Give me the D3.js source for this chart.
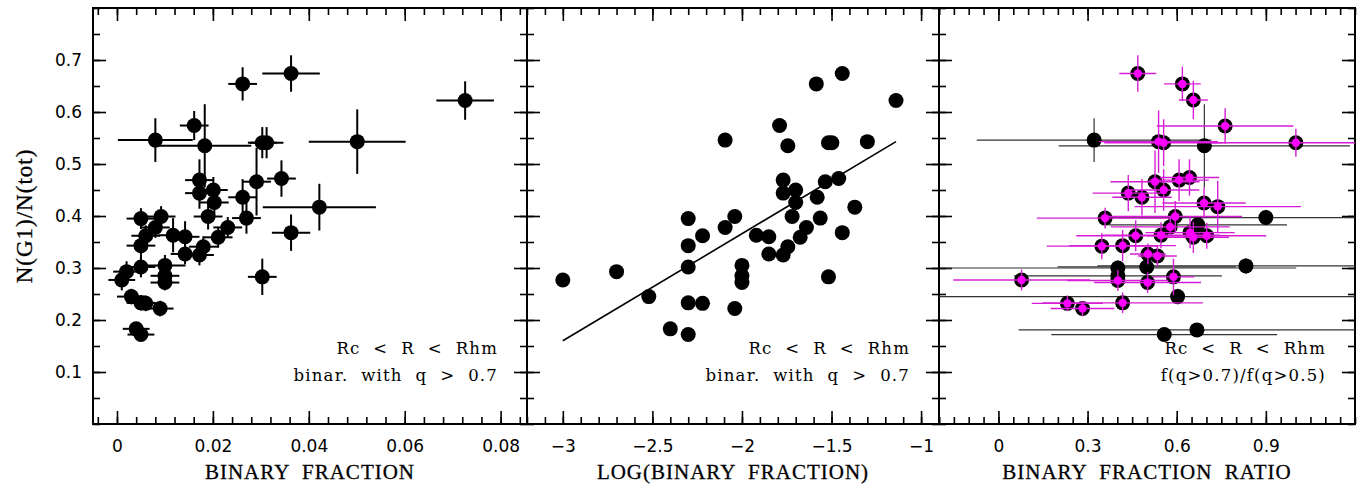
<!DOCTYPE html>
<html>
<head>
<meta charset="utf-8">
<style>
body { margin: 0; background: #fff; }
.tick text { font-family: "DejaVu Sans", sans-serif; font-size: 17px; fill: #000; }
.axis path.domain { display: none; }
.axis line { stroke: #000; stroke-width: 1.6; }
.title { font-family: "Liberation Serif", "DejaVu Serif", serif; font-size: 21px; fill: #000; stroke: #000; stroke-width: 0.3; letter-spacing: 1px; }
.ytitle { font-size: 23px; }
.note { font-family: "DejaVu Serif", serif; font-size: 16.5px; fill: #000; white-space: pre; letter-spacing: 1.2px; }
</style>
</head>
<body>
<svg id="chart" width="1370" height="487"></svg>
<script src="https://cdn.jsdelivr.net/npm/d3@7"></script>
<script>
// panels 1 and 2: same clusters, binary fraction (q > 0.7) vs N(G1)/N(tot)
var bf    = [0.001,0.002,0.003,0.004,0.005,0.005,0.006,0.005,0.005,0.005,0.006,0.008,0.0092,0.008,0.009,0.010,0.010,0.010,0.0117,0.0142,0.0142,0.0161,0.0172,0.0172,0.0183,0.0172,0.0180,0.0201,0.0203,0.0190,0.0211,0.0231,0.0262,0.0262,0.0270,0.0291,0.0303,0.0312,0.0303,0.0343,0.0363,0.0363,0.0422,0.0501,0.0726];
var bfErr = [0.0028,0.0028,0.003,0.0028,0.0028,0.003,0.0025,0.003,0.003,0.003,0.003,0.003,0.003,0.0078,0.0028,0.0043,0.003,0.003,0.003,0.003,0.003,0.003,0.003,0.003,0.0097,0.003,0.003,0.003,0.003,0.003,0.003,0.003,0.003,0.003,0.003,0.003,0.003,0.0035,0.003,0.003,0.006,0.004,0.0118,0.0101,0.006];
var g1    = [0.277,0.293,0.245,0.183,0.172,0.233,0.232,0.302,0.343,0.395,0.362,0.378,0.399,0.546,0.222,0.305,0.285,0.272,0.363,0.360,0.327,0.574,0.469,0.444,0.535,0.325,0.341,0.450,0.426,0.399,0.359,0.378,0.654,0.436,0.396,0.466,0.541,0.541,0.283,0.472,0.674,0.368,0.417,0.543,0.622];
var g1Err = [0.02,0.02,0.015,0.012,0.012,0.015,0.015,0.02,0.025,0.02,0.02,0.02,0.02,0.042,0.015,0.02,0.015,0.015,0.033,0.03,0.02,0.028,0.04,0.03,0.08,0.02,0.02,0.025,0.025,0.025,0.02,0.02,0.032,0.035,0.03,0.065,0.03,0.03,0.035,0.035,0.035,0.035,0.045,0.062,0.037];
var logBf = [-3.0,-2.70,-2.52,-2.40,-2.30,-2.30,-2.22,-2.30,-2.30,-2.30,-2.22,-2.094,-2.04,-2.094,-2.04,-2.0,-2.0,-2.0,-1.92,-1.85,-1.85,-1.79,-1.77,-1.77,-1.744,-1.77,-1.744,-1.70,-1.70,-1.72,-1.675,-1.64,-1.585,-1.58,-1.563,-1.535,-1.517,-1.498,-1.517,-1.46,-1.44,-1.44,-1.37,-1.30,-1.14];
var fitX = [-3.0, -1.14];
var fitY = [0.160, 0.543];

// panel 3: ratio f(q>0.7)/f(q>0.5); magenta = good ratio, black = poor
var ratioM    = [0.469,0.619,0.656,0.763,0.539,0.556,1.001,0.527,0.556,0.608,0.643,0.437,0.483,0.692,0.738,0.359,0.595,0.578,0.462,0.547,0.645,0.656,0.701,0.348,0.418,0.503,0.535,0.078,0.402,0.502,0.589,0.232,0.283,0.418];
var ratioMErr = [0.062,0.062,0.049,0.23,0.2,0.2,0.285,0.15,0.12,0.1,0.1,0.12,0.1,0.14,0.28,0.23,0.225,0.2,0.2,0.2,0.15,0.12,0.2,0.185,0.18,0.06,0.065,0.23,0.17,0.18,0.07,0.12,0.107,0.27];
var g1M       = [0.674,0.654,0.623,0.573,0.543,0.541,0.541,0.466,0.450,0.469,0.474,0.444,0.436,0.425,0.418,0.396,0.399,0.379,0.362,0.363,0.368,0.359,0.362,0.342,0.343,0.327,0.323,0.277,0.276,0.272,0.283,0.232,0.222,0.233];
var g1MErr    = [0.035,0.033,0.037,0.034,0.06,0.045,0.027,0.06,0.04,0.04,0.035,0.035,0.035,0.03,0.05,0.02,0.03,0.02,0.03,0.025,0.03,0.03,0.025,0.025,0.03,0.02,0.02,0.02,0.02,0.02,0.035,0.015,0.015,0.02];
var ratioK    = [0.322,0.693,0.900,0.671,0.402,0.402,0.499,0.833,0.603,0.558,0.668];
var ratioKErr = [0.395,0.49,0.535,0.3,0.6,0.35,0.3,0.5,0.9,0.38,0.6];
var g1K       = [0.546,0.535,0.397,0.383,0.300,0.285,0.302,0.304,0.245,0.172,0.181];
var g1KErr    = [0.042,0.08,0.015,0.015,0.015,0.015,0.015,0.015,0.015,0.012,0.012];

// axes
var yTicks = [0.1,0.2,0.3,0.4,0.5,0.6,0.7];
var yLabels = ["0.1","0.2","0.3","0.4","0.5","0.6","0.7"];
var x1Ticks = [0,0.02,0.04,0.06,0.08];
var x1Labels = ["0","0.02","0.04","0.06","0.08"];
var x2Ticks = [-3,-2.5,-2,-1.5,-1];
var x2Labels = ["\u22123","\u22122.5","\u22122","\u22121.5","\u22121"];
var x3Ticks = [0,0.3,0.6,0.9];
var x3Labels = ["0","0.3","0.6","0.9"];
var xTitles = ["BINARY  FRACTION", "LOG(BINARY  FRACTION)", "BINARY  FRACTION  RATIO"];
var yTitle = "N(G1)/N(tot)";
var notes = [["Rc  <  R  <  Rhm", "binar.  with  q  >  0.7"],
             ["Rc  <  R  <  Rhm", "binar.  with  q  >  0.7"],
             ["Rc  <  R  <  Rhm", "f(q>0.7)/f(q>0.5)"]];

var svg = d3.select("#chart");
var top_ = 8, bottom = 424;
var edges = [93, 527, 939, 1355];

var y = d3.scaleLinear().domain([0, 0.8]).range([bottom, top_]);
var xs = [
  d3.scaleLinear().domain([-0.005, 0.0855]).range([edges[0], edges[1]]),
  d3.scaleLinear().domain([-3.2, -0.9]).range([edges[1], edges[2]]),
  d3.scaleLinear().domain([-0.2, 1.2]).range([edges[2], edges[3]])
];
var majors = [x1Ticks, x2Ticks, x3Ticks];
var labels = [x1Labels, x2Labels, x3Labels];
var minorStep = [0.004, 0.1, 0.05];

function minors(dom, step) {
  var out = [];
  for (var v = Math.ceil(dom[0] / step - 1e-6) * step; v <= dom[1] + 1e-9; v += step) out.push(+v.toFixed(6));
  return out;
}
var yMinor = minors([0, 0.8], 0.05);

xs.forEach(function(x, p) {
  var xm = minors(x.domain(), minorStep[p]);
  var lab = labels[p];
  // bottom: minor ticks, then major ticks with labels
  svg.append("g").attr("class", "axis").attr("transform", "translate(0," + bottom + ")")
    .call(d3.axisBottom(x).tickValues(xm).tickSize(-7).tickSizeOuter(0).tickFormat(""));
  svg.append("g").attr("class", "axis").attr("transform", "translate(0," + bottom + ")")
    .call(d3.axisBottom(x).tickValues(majors[p]).tickSize(-13).tickSizeOuter(0).tickPadding(16)
      .tickFormat(function(d, i) { return lab[i]; }));
  // top
  svg.append("g").attr("class", "axis").attr("transform", "translate(0," + top_ + ")")
    .call(d3.axisTop(x).tickValues(xm).tickSize(-7).tickSizeOuter(0).tickFormat(""));
  svg.append("g").attr("class", "axis").attr("transform", "translate(0," + top_ + ")")
    .call(d3.axisTop(x).tickValues(majors[p]).tickSize(-13).tickSizeOuter(0).tickFormat(""));
  // left / right
  var l = x.range()[0], r = x.range()[1];
  svg.append("g").attr("class", "axis").attr("transform", "translate(" + l + ",0)")
    .call(d3.axisLeft(y).tickValues(yMinor).tickSize(-7).tickSizeOuter(0).tickFormat(""));
  svg.append("g").attr("class", "axis").attr("transform", "translate(" + l + ",0)")
    .call(d3.axisLeft(y).tickValues(yTicks).tickSize(-13).tickSizeOuter(0).tickPadding(11)
      .tickFormat(function(d, i) { return p == 0 ? yLabels[i] : ""; }));
  svg.append("g").attr("class", "axis").attr("transform", "translate(" + r + ",0)")
    .call(d3.axisRight(y).tickValues(yMinor).tickSize(-7).tickSizeOuter(0).tickFormat(""));
  svg.append("g").attr("class", "axis").attr("transform", "translate(" + r + ",0)")
    .call(d3.axisRight(y).tickValues(yTicks).tickSize(-13).tickSizeOuter(0).tickFormat(""));

  svg.append("rect")
    .attr("x", l).attr("y", top_).attr("width", r - l).attr("height", bottom - top_)
    .attr("fill", "none").attr("stroke", "#000").attr("stroke-width", 2);

  svg.append("clipPath").attr("id", "clip" + p)
    .append("rect").attr("x", l).attr("y", top_).attr("width", r - l).attr("height", bottom - top_);

  svg.append("text").attr("class", "title")
    .attr("x", (l + r) / 2).attr("y", 479).attr("text-anchor", "middle")
    .style("white-space", "pre").text(xTitles[p]);

  svg.append("text").attr("class", "note").attr("text-anchor", "end")
    .attr("x", r - 29).attr("y", 354).text(notes[p][0]);
  svg.append("text").attr("class", "note").attr("text-anchor", "end")
    .attr("x", r - 29).attr("y", 381).text(notes[p][1]);
});

svg.append("text").attr("class", "title ytitle")
  .attr("transform", "translate(32," + ((top_ + bottom) / 2) + ") rotate(-90)")
  .attr("text-anchor", "middle").text(yTitle);

// error bar helper
function errBars(g, x, xv, xe, yv, ye, color, w) {
  var idx = d3.range(xv.length);
  g.selectAll(null).data(idx).enter().append("line")
    .attr("x1", function(i) { return x(xv[i] - xe[i]); })
    .attr("x2", function(i) { return x(xv[i] + xe[i]); })
    .attr("y1", function(i) { return y(yv[i]); })
    .attr("y2", function(i) { return y(yv[i]); })
    .attr("stroke", color).attr("stroke-width", w);
  g.selectAll(null).data(idx).enter().append("line")
    .attr("x1", function(i) { return x(xv[i]); })
    .attr("x2", function(i) { return x(xv[i]); })
    .attr("y1", function(i) { return y(yv[i] - ye[i]); })
    .attr("y2", function(i) { return y(yv[i] + ye[i]); })
    .attr("stroke", color).attr("stroke-width", w);
}
function dots(g, x, xv, yv, r, color) {
  g.selectAll(null).data(d3.range(xv.length)).enter().append("circle")
    .attr("cx", function(i) { return x(xv[i]); })
    .attr("cy", function(i) { return y(yv[i]); })
    .attr("r", r).attr("fill", color);
}

// panel 1
var g1p = svg.append("g").attr("clip-path", "url(#clip0)");
errBars(g1p, xs[0], bf, bfErr, g1, g1Err, "#000", 2);
dots(g1p, xs[0], bf, g1, 7.5, "#000");

// panel 2
var g2p = svg.append("g").attr("clip-path", "url(#clip1)");
g2p.append("line")
  .attr("x1", xs[1](fitX[0])).attr("y1", y(fitY[0]))
  .attr("x2", xs[1](fitX[1])).attr("y2", y(fitY[1]))
  .attr("stroke", "#000").attr("stroke-width", 1.6);
dots(g2p, xs[1], logBf, g1, 7.5, "#000");

// panel 3
var g3p = svg.append("g").attr("clip-path", "url(#clip2)");
errBars(g3p, xs[2], ratioK, ratioKErr, g1K, g1KErr, "#333", 1.2);
dots(g3p, xs[2], ratioK, g1K, 7.5, "#000");
dots(g3p, xs[2], ratioM, g1M, 7.5, "#000");
errBars(g3p, xs[2], ratioM, ratioMErr, g1M, g1MErr, "#d61ed6", 1.4);
dots(g3p, xs[2], ratioM, g1M, 4.2, "#ff00ff");
</script>
</body>
</html>
